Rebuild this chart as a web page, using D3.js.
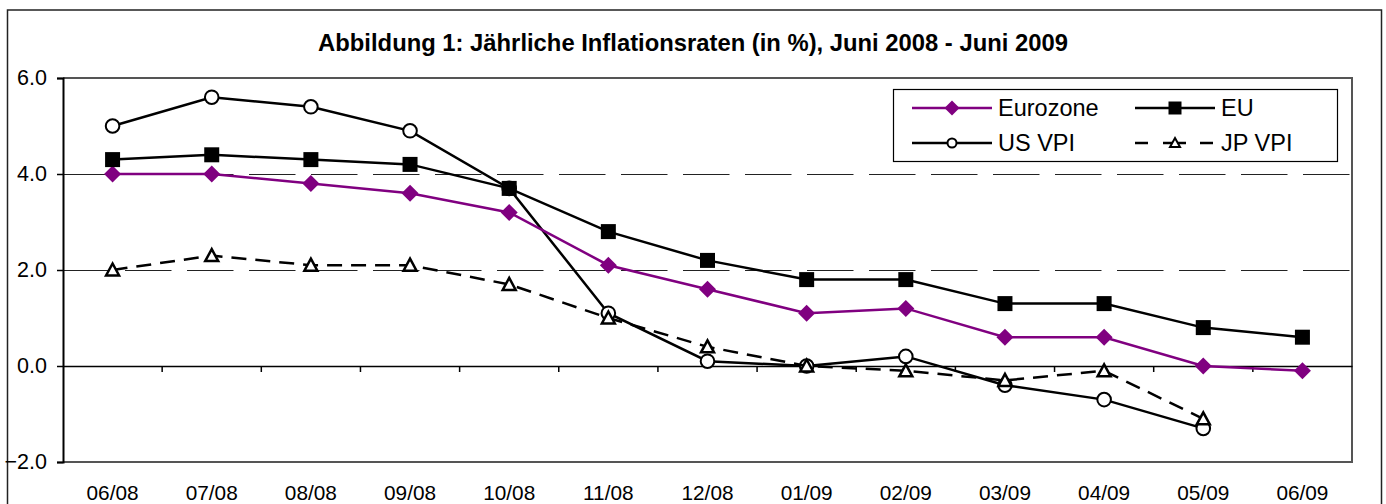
<!DOCTYPE html>
<html><head><meta charset="utf-8">
<script src="https://cdn.jsdelivr.net/npm/d3@7"></script>
<style>
html,body{margin:0;padding:0;background:#fff;}
svg{display:block;font-family:"Liberation Sans",Arial,sans-serif;}
</style></head>
<body><svg id="c" width="1386" height="504"></svg>
<script>
const months = ["06/08","07/08","08/08","09/08","10/08","11/08","12/08","01/09","02/09","03/09","04/09","05/09","06/09"];
const eurozone = [4.0,4.0,3.8,3.6,3.2,2.1,1.6,1.1,1.2,0.6,0.6,0.0,-0.1];
const eu = [4.3,4.4,4.3,4.2,3.7,2.8,2.2,1.8,1.8,1.3,1.3,0.8,0.6];
const usVpi = [5.0,5.6,5.4,4.9,3.7,1.1,0.1,0.0,0.2,-0.4,-0.7,-1.3,null];
const jpVpi = [2.0,2.3,2.1,2.1,1.7,1.0,0.4,0.0,-0.1,-0.3,-0.1,-1.1,null];
const yTicks = [-2,0,2,4,6];
const title = "Abbildung 1: Jährliche Inflationsraten (in %), Juni 2008 - Juni 2009";

const svg = d3.select("#c");
const L = 63, R = 1352, T = 78, B = 462;
const x = d3.scaleBand().domain(months).range([L, R]);
const y = d3.scaleLinear().domain([-2, 6]).range([B, T]);
const cx = m => x(m) + x.bandwidth()/2;

// outer frame
svg.append("rect").attr("x",7.5).attr("y",10).attr("width",1374).attr("height",510)
  .attr("fill","#fff").attr("stroke","#222").attr("stroke-width",1.5);

// title
svg.append("text").attr("x",693).attr("y",51).attr("text-anchor","middle")
  .attr("font-weight","bold").attr("font-size",23.8).attr("fill","#000").text(title);

// gridlines
svg.append("g").selectAll("line").data(yTicks.filter(d=>d>0 && d<6)).join("line")
  .attr("x1",L).attr("x2",R).attr("y1",d=>y(d)+0.5).attr("y2",d=>y(d)+0.5)
  .attr("stroke","#222").attr("stroke-width",1).attr("stroke-dasharray","46.5,15.5");

// plot border (top, right, bottom)
svg.append("path").attr("d",`M${L},${T}H${R}V${B}H${L}`).attr("fill","none")
  .attr("stroke","#555").attr("stroke-width",2);

// y axis
const yAxis = svg.append("g").attr("transform",`translate(${L},0)`)
  .call(d3.axisLeft(y).tickValues(yTicks).tickFormat(d3.format(".1f")).tickSize(6).tickPadding(10));
yAxis.select(".domain").attr("stroke","#000").attr("stroke-width",2);
yAxis.selectAll(".tick line").attr("stroke","#000").attr("stroke-width",1.5);
yAxis.selectAll("text").attr("font-size",21.5).attr("fill","#000").attr("font-family","Liberation Sans, Arial, sans-serif");

// x axis at zero
const xAxis = svg.append("g").attr("transform",`translate(0,${y(0)})`)
  .call(d3.axisBottom(x).tickSize(0).tickFormat(""));
xAxis.select(".domain").attr("stroke","#000").attr("stroke-width",1.5);
const bounds = months.slice(1).map(m=>x(m));
svg.append("g").selectAll("line").data(bounds).join("line")
  .attr("x1",d=>d).attr("x2",d=>d).attr("y1",y(0)).attr("y2",y(0)+6)
  .attr("stroke","#000").attr("stroke-width",1.5);

// x labels at bottom
svg.append("g").selectAll("text").data(months).join("text")
  .attr("x",d=>cx(d)).attr("y",500).attr("text-anchor","middle")
  .attr("font-size",20.8).attr("fill","#000").text(d=>d);

const purple = "#800080";
const line = d3.line().defined(d=>d.v!=null).x(d=>cx(d.m)).y(d=>y(d.v));
const pts = arr => arr.map((v,i)=>({m:months[i],v}));

const diamondPath = h => `M0,${-h}L${h},0L0,${h}L${-h},0Z`;
const squarePath = h => `M${-h},${-h}H${h}V${h}H${-h}Z`;
const triPath = (w,hgt) => `M0,${-hgt/2-1}L${w/2},${hgt/2}L${-w/2},${hgt/2}Z`;

function drawSeries(data, opts){
  const g = svg.append("g");
  g.append("path").attr("d", line(pts(data))).attr("fill","none")
    .attr("stroke",opts.color).attr("stroke-width",2.5)
    .attr("stroke-dasharray",opts.dash||null);
  const p = pts(data).filter(d=>d.v!=null);
  if(opts.type==="circle"){
    g.selectAll("circle").data(p).join("circle").attr("cx",d=>cx(d.m)).attr("cy",d=>y(d.v))
      .attr("r",6.8).attr("fill","#fff").attr("stroke","#000").attr("stroke-width",2);
  } else {
    g.selectAll(".mk").data(p).join("path").attr("class","mk")
      .attr("transform",d=>`translate(${cx(d.m)},${y(d.v)})`)
      .attr("d",opts.sym).attr("fill",opts.fill).attr("stroke",opts.stroke||"none")
      .attr("stroke-width",opts.sw||0).attr("stroke-linejoin","miter");
  }
}
drawSeries(usVpi,{color:"#000",type:"circle"});
drawSeries(eurozone,{color:purple,sym:diamondPath(8.5),fill:purple});
drawSeries(eu,{color:"#000",sym:squarePath(7.5),fill:"#000"});
drawSeries(jpVpi,{color:"#000",dash:"15,9",sym:triPath(13,11),fill:"#fff",stroke:"#000",sw:2.5});

// legend
const lg = svg.append("g");
lg.append("rect").attr("x",893.5).attr("y",89.5).attr("width",444).attr("height",72)
  .attr("fill","#fff").attr("stroke","#000").attr("stroke-width",1.2);
const legendItems = [
  {name:"Eurozone", x:912, yy:108, color:purple, kind:"diamond"},
  {name:"EU", x:1135, yy:108, color:"#000", kind:"square"},
  {name:"US VPI", x:912, yy:143, color:"#000", kind:"circle"},
  {name:"JP VPI", x:1135, yy:143, color:"#000", kind:"tri"}
];
legendItems.forEach(it=>{
  const mx = it.x + 40;
  if(it.kind==="tri"){
    [[0,13],[28,51],[65,78]].forEach(s=>
      lg.append("line").attr("x1",it.x+s[0]).attr("x2",it.x+s[1]).attr("y1",it.yy).attr("y2",it.yy).attr("stroke","#000").attr("stroke-width",2.5));
    lg.append("path").attr("transform",`translate(${mx},${it.yy})`).attr("d",triPath(10,8))
      .attr("fill","#fff").attr("stroke","#000").attr("stroke-width",2);
  } else {
    lg.append("line").attr("x1",it.x).attr("x2",it.x+80).attr("y1",it.yy).attr("y2",it.yy).attr("stroke",it.color).attr("stroke-width",2.5);
    if(it.kind==="circle"){
      lg.append("circle").attr("cx",mx).attr("cy",it.yy).attr("r",4.5).attr("fill","#fff").attr("stroke","#000").attr("stroke-width",2);
    } else {
      lg.append("path").attr("transform",`translate(${mx},${it.yy})`)
        .attr("d",it.kind==="diamond"?diamondPath(7.5):squarePath(6.5))
        .attr("fill",it.color);
    }
  }
  lg.append("text").attr("x",it.x+86).attr("y",it.yy+8).attr("font-size",23.5).attr("fill","#000").text(it.name);
});
</script></body></html>
